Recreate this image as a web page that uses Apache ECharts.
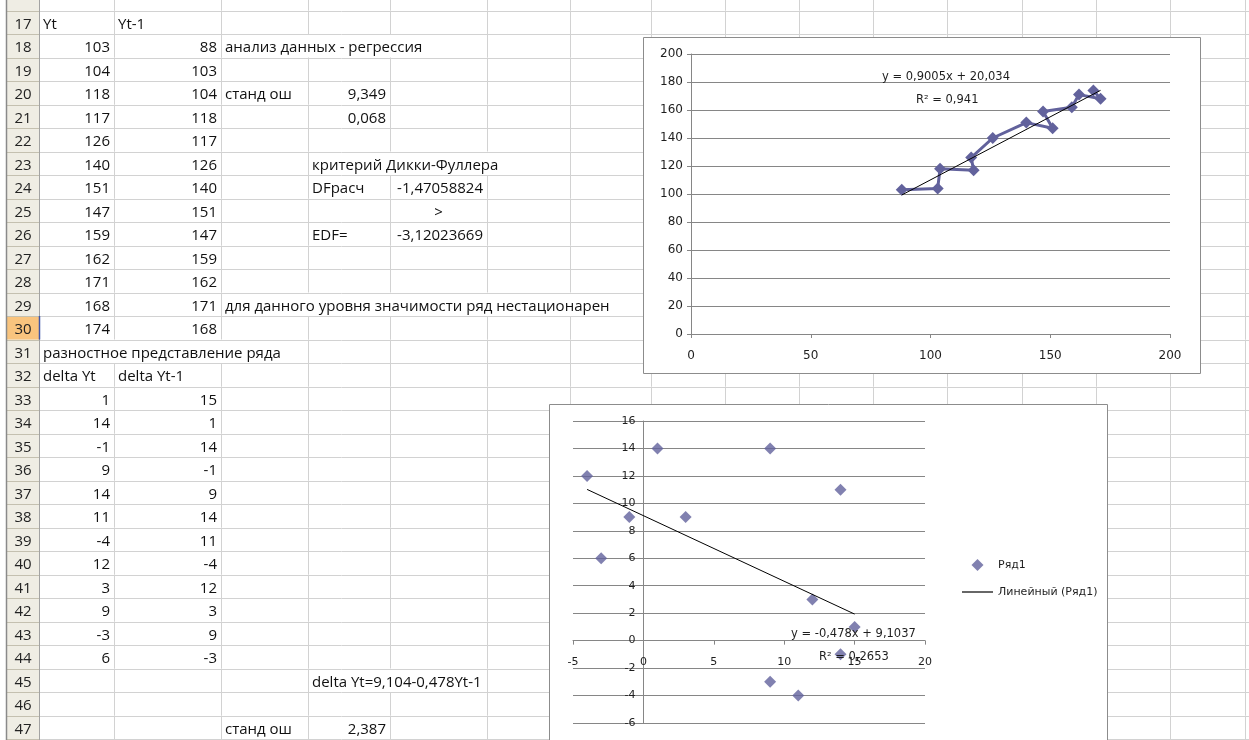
<!DOCTYPE html>
<html>
<head>
<meta charset="utf-8">
<script src="https://cdn.jsdelivr.net/npm/echarts@6/dist/echarts.min.js"></script>
<style>
  html, body { margin: 0; padding: 0; background: #fff; }
  #main { width: 1249px; height: 740px; }
</style>
</head>
<body>
<div id="main"></div>
<script>
// ---- Levels: Yt and its lag Yt-1 (rows 18-30) ----
const yt    = [103, 104, 118, 117, 126, 140, 151, 147, 159, 162, 171, 168, 174];
const ytLag = [88, 103, 104, 118, 117, 126, 140, 151, 147, 159, 162, 171, 168];

// ---- First differences: delta Yt and delta Yt-1 (rows 33-44) ----
const dYt    = [1, 14, -1, 9, 14, 11, -4, 12, 3, 9, -3, 6];
const dYtLag = [15, 1, 14, -1, 9, 14, 11, -4, 12, 3, 9, -3];

// ---- Fitted linear trends (as printed on the charts) ----
const levelSlope = 0.9005, levelIntercept = 20.034, levelR2 = 0.941;
const diffSlope = -0.478, diffIntercept = 9.1037, diffR2 = 0.2653;

// ---- Axis ticks: min, max, step ----
const levelTicksX = [0, 200, 50];
const levelTicksY = [0, 200, 20];
const diffTicksX  = [-5, 20, 5];
const diffTicksY  = [-6, 16, 2];

// ---- Worksheet texts: [row, column (0 = A), text, align, columns spanned] ----
const sheetNotes = [
  [17, 0, 'Yt', 'left', 1],
  [17, 1, 'Yt-1', 'left', 1],
  [18, 2, 'анализ данных - регрессия', 'left', 3],
  [20, 2, 'станд ош', 'left', 1],
  [20, 3, '9,349', 'right', 1],
  [21, 3, '0,068', 'right', 1],
  [23, 3, 'критерий Дикки-Фуллера', 'left', 3],
  [24, 3, 'DFрасч', 'left', 1],
  [24, 4, '-1,47058824', 'right', 1],
  [25, 4, '>', 'center', 1],
  [26, 3, 'EDF=', 'left', 1],
  [26, 4, '-3,12023669', 'right', 1],
  [29, 2, 'для данного уровня значимости ряд нестационарен', 'left', 5],
  [31, 0, 'разностное представление ряда', 'left', 3],
  [32, 0, 'delta Yt', 'left', 1],
  [32, 1, 'delta Yt-1', 'left', 1],
  [45, 3, 'delta Yt=9,104-0,478Yt-1', 'left', 2],
  [47, 2, 'станд ош', 'left', 1],
  [47, 3, '2,387', 'right', 1]
];

// ---- Worksheet geometry ----
const W = 1249, H = 740;
const FIRST_ROW = 17, LAST_ROW = 47, SELECTED_ROW = 30;
const ROW_TOP = 10.5, ROW_H = 23.5;
const HEADER_LEFT = 7, HEADER_RIGHT = 39;
const colEdges = [39, 114, 221, 308, 390, 487, 570, 651, 725, 799, 873, 947, 1022, 1096, 1170, 1245, 1320];
const SHEET_FONT = '15px "Open Sans", "Noto Sans", sans-serif';
const CHART_FONT = '"DejaVu Sans", sans-serif';
const GRID_COLOR = '#D2D2D2';
const SERIES_COLOR = '#62629C';
const AXIS_COLOR = '#868686';
const TEXT_COLOR = '#1E1E1E';

// ---- Chart plot areas ----
const levelGrid = { left: 691, top: 54, width: 479, height: 280 };
const diffGrid = { left: 573, top: 421, width: 352, height: 302 };

const rowY = r => ROW_TOP + (r - FIRST_ROW) * ROW_H;
const crisp = v => Math.round(v) + 0.5;
const comma = v => String(v).replace('.', ',');

const g = [];
const SZ = -5;
g.push({ type: 'rect', silent: true, z: SZ, shape: { x: 0, y: 0, width: W, height: H }, style: { fill: '#fff' } });
g.push({ type: 'rect', silent: true, z: SZ, shape: { x: HEADER_LEFT, y: 0, width: HEADER_RIGHT - HEADER_LEFT, height: H }, style: { fill: '#EFEDE4' } });
g.push({ type: 'rect', silent: true, z: SZ, shape: { x: HEADER_LEFT, y: rowY(SELECTED_ROW), width: HEADER_RIGHT - HEADER_LEFT, height: ROW_H }, style: { fill: '#F9C47E' } });

// Borders hidden where text runs on into neighbouring empty cells
const hidden = {};
sheetNotes.forEach(([r, c, , , span]) => {
  for (let k = 1; k < span; k++) {
    (hidden[r] = hidden[r] || []).push(colEdges[c + k]);
  }
});

// Horizontal row borders
for (let r = FIRST_ROW; r <= LAST_ROW + 1; r++) {
  const y = crisp(rowY(r));
  g.push({ type: 'line', silent: true, z: SZ, shape: { x1: HEADER_LEFT, y1: y, x2: HEADER_RIGHT, y2: y }, style: { stroke: '#C4C0B0', lineWidth: 1 } });
  g.push({ type: 'line', silent: true, z: SZ, shape: { x1: HEADER_RIGHT, y1: y, x2: W, y2: y }, style: { stroke: GRID_COLOR, lineWidth: 1 } });
}
// Vertical column borders, row by row
for (let r = FIRST_ROW - 1; r <= LAST_ROW; r++) {
  const y1 = r < FIRST_ROW ? 0 : rowY(r);
  const y2 = rowY(r + 1);
  colEdges.slice(1).forEach(e => {
    if (hidden[r] && hidden[r].indexOf(e) >= 0) return;
    const x = crisp(e);
    g.push({ type: 'line', silent: true, z: SZ, shape: { x1: x, y1: y1, x2: x, y2: y2 }, style: { stroke: GRID_COLOR, lineWidth: 1 } });
  });
}
g.push({ type: 'line', silent: true, z: SZ, shape: { x1: 6.5, y1: 0, x2: 6.5, y2: H }, style: { stroke: '#8A8A8A', lineWidth: 1.5 } });
g.push({ type: 'line', silent: true, z: SZ, shape: { x1: HEADER_RIGHT + 0.5, y1: 0, x2: HEADER_RIGHT + 0.5, y2: H }, style: { stroke: '#A3A3A3', lineWidth: 1 } });
g.push({ type: 'line', silent: true, z: SZ, shape: { x1: HEADER_RIGHT + 0.5, y1: rowY(SELECTED_ROW), x2: HEADER_RIGHT + 0.5, y2: rowY(SELECTED_ROW + 1) }, style: { stroke: '#3E54A8', lineWidth: 1.5 } });

function cellText(r, x, text, align, color) {
  g.push({
    type: 'text', silent: true, z: SZ + 1, x: x, y: rowY(r) + ROW_H / 2 + 2,
    style: { text: text, font: SHEET_FONT, fill: color || '#111', align: align, verticalAlign: 'middle', textAlign: align, textVerticalAlign: 'middle' }
  });
}
// Row numbers
for (let r = FIRST_ROW; r <= LAST_ROW; r++) {
  cellText(r, (HEADER_LEFT + HEADER_RIGHT) / 2, String(r), 'center', '#222');
}
// Column values
yt.forEach((v, i) => cellText(18 + i, colEdges[1] - 4, String(v), 'right'));
ytLag.forEach((v, i) => cellText(18 + i, colEdges[2] - 4, String(v), 'right'));
dYt.forEach((v, i) => cellText(33 + i, colEdges[1] - 4, String(v), 'right'));
dYtLag.forEach((v, i) => cellText(33 + i, colEdges[2] - 4, String(v), 'right'));
// Notes
sheetNotes.forEach(([r, c, text, align]) => {
  const x = align === 'left' ? colEdges[c] + 4 : align === 'right' ? colEdges[c + 1] - 4 : (colEdges[c] + colEdges[c + 1]) / 2;
  cellText(r, x, text, align);
});

// Chart frames
g.push({ type: 'rect', silent: true, z: -1, shape: { x: 643.5, y: 37.5, width: 557, height: 336 }, style: { fill: '#fff', stroke: '#8C8C8C', lineWidth: 1 } });
g.push({ type: 'rect', silent: true, z: -1, shape: { x: 549.5, y: 404.5, width: 558, height: 400 }, style: { fill: '#fff', stroke: '#8C8C8C', lineWidth: 1 } });

// Trend equations
function chartText(x, y, text) {
  g.push({ type: 'text', silent: true, z: 20, x: x, y: y,
    style: { text: text, font: '11.5px ' + CHART_FONT, fill: TEXT_COLOR, align: 'left', verticalAlign: 'middle', textAlign: 'left', textVerticalAlign: 'middle' } });
}
chartText(882, 77, 'y = ' + comma(levelSlope) + 'x + ' + comma(levelIntercept));
chartText(916, 100, 'R\u00B2 = ' + comma(levelR2));
chartText(791, 634, 'y = ' + comma(diffSlope) + 'x + ' + comma(diffIntercept));
chartText(819, 657, 'R\u00B2 = ' + comma(diffR2));

// Series data
const levelPoints = ytLag.map((x, i) => [x, yt[i]]);
const diffPoints = dYtLag.map((x, i) => [x, dYt[i]]);
const lvMin = Math.min(...ytLag), lvMax = Math.max(...ytLag);
const dfMin = Math.min(...dYtLag), dfMax = Math.max(...dYtLag);
const levelTrend = [[lvMin, levelSlope * lvMin + levelIntercept], [lvMax, levelSlope * lvMax + levelIntercept]];
const diffTrend = [[dfMin, diffSlope * dfMin + diffIntercept], [dfMax, diffSlope * dfMax + diffIntercept]];

// The difference chart's axes cross at zero: shift them inward by the scale position of 0
const diffXAxisShift = -(0 - diffTicksY[0]) / (diffTicksY[1] - diffTicksY[0]) * diffGrid.height;
const diffYAxisShift = -(0 - diffTicksX[0]) / (diffTicksX[1] - diffTicksX[0]) * diffGrid.width;

function valueAxis(gridIndex, ticks, fontSize, margin, extra) {
  return Object.assign({
    type: 'value', gridIndex: gridIndex, min: ticks[0], max: ticks[1], interval: ticks[2],
    axisLine: { show: true, onZero: false, lineStyle: { color: AXIS_COLOR, width: 1 } },
    axisTick: { show: true, length: 4, lineStyle: { color: AXIS_COLOR } },
    splitLine: { show: false },
    axisLabel: { fontFamily: CHART_FONT, fontSize: fontSize, color: TEXT_COLOR, margin: margin }
  }, extra);
}
const splitLines = { show: true, lineStyle: { color: AXIS_COLOR, width: 1 } };

// Legend icons sized to the full icon box so they are not stretched
const diamondIcon = 'path://M0,0 M31,12 M15.5,0 L21.5,6 L15.5,12 L9.5,6 Z';
const lineIcon = 'path://M0,0 M31,12 M0,5.4 L31,5.4 L31,6.6 L0,6.6 Z';

const chart = echarts.init(document.getElementById('main'), null, { renderer: 'canvas' });
chart.setOption({
  animation: false,
  graphic: g,
  grid: [levelGrid, diffGrid],
  xAxis: [
    valueAxis(0, levelTicksX, 12, 16),
    valueAxis(1, diffTicksX, 11, 16, { offset: diffXAxisShift })
  ],
  yAxis: [
    valueAxis(0, levelTicksY, 12, 8, { splitLine: splitLines }),
    valueAxis(1, diffTicksY, 11, 8, { splitLine: splitLines, offset: diffYAxisShift })
  ],
  legend: {
    data: [
      { name: 'Ряд1', icon: diamondIcon, itemStyle: { color: SERIES_COLOR } },
      { name: 'Линейный (Ряд1)', icon: lineIcon, itemStyle: { color: '#000' } }
    ],
    orient: 'vertical', left: 957, top: 554,
    itemWidth: 31, itemHeight: 12, itemGap: 15,
    selectedMode: false,
    textStyle: { fontFamily: CHART_FONT, fontSize: 11, color: TEXT_COLOR }
  },
  series: [
    {
      name: 'Yt', type: 'line', xAxisIndex: 0, yAxisIndex: 0, data: levelPoints,
      symbol: 'diamond', symbolSize: 12, showAllSymbol: true,
      lineStyle: { color: SERIES_COLOR, width: 3 }, itemStyle: { color: SERIES_COLOR }, z: 3
    },
    {
      name: 'Yt trend', type: 'line', xAxisIndex: 0, yAxisIndex: 0, data: levelTrend,
      symbol: 'none', lineStyle: { color: '#000', width: 1 }, itemStyle: { color: '#000' }, z: 4
    },
    {
      name: 'Ряд1', type: 'scatter', xAxisIndex: 1, yAxisIndex: 1, data: diffPoints,
      symbol: 'diamond', symbolSize: 12, itemStyle: { color: SERIES_COLOR }, z: 3
    },
    {
      name: 'Линейный (Ряд1)', type: 'line', xAxisIndex: 1, yAxisIndex: 1, data: diffTrend,
      symbol: 'none', lineStyle: { color: '#000', width: 1 }, itemStyle: { color: '#000' }, z: 4
    }
  ]
});
</script>
</body>
</html>
